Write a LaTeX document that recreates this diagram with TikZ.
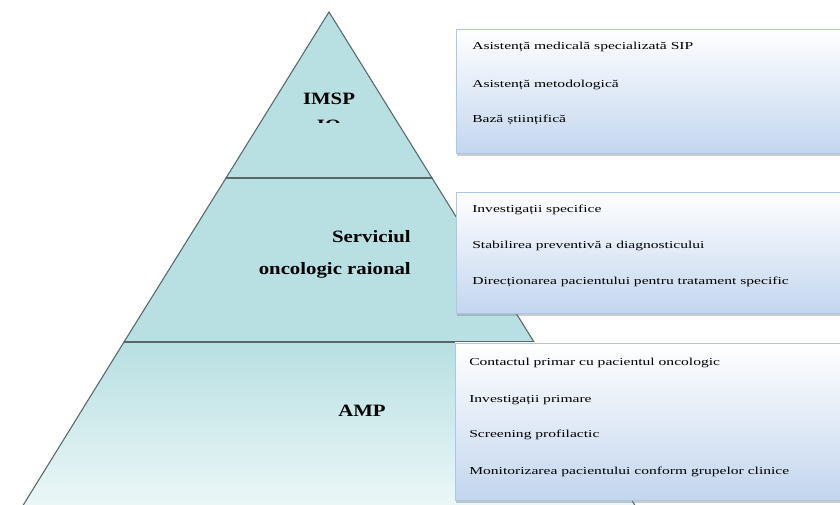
\documentclass[tikz,border=0pt]{standalone}
\usepackage{fontspec}
\setmainfont{Liberation Serif}
\newfontfamily\itemfont[FakeStretch=1.46]{Liberation Serif}
\newfontfamily\tierfont[FakeStretch=1.2]{Liberation Serif}
\usetikzlibrary{shadows}
\definecolor{pyrteal}{RGB}{184,223,226}
\definecolor{pyrpale}{RGB}{240,249,249}
\definecolor{pyredge}{RGB}{88,104,104}
\definecolor{boxbot}{RGB}{195,214,238}
\definecolor{boxline}{RGB}{170,198,232}
\tikzset{
  tier/.style={fill=pyrteal, draw=pyredge, line width=0.8pt},
  sepline/.style={draw=pyredge, line width=1.6pt},
  infobox/.style={top color=white, bottom color=boxbot, draw=boxline, line width=0.6pt,
    drop shadow={shadow xshift=1pt, shadow yshift=-2pt, opacity=0.4, fill=gray}},
  item/.style={anchor=west, inner sep=0pt, font=\itemfont\fontsize{8}{9}\selectfont},
  tierlabel/.style={font=\tierfont\bfseries\fontsize{13}{24}\selectfont, inner sep=0pt}
}
\begin{document}
\begin{tikzpicture}[x=0.75pt,y=-0.75pt]
\clip (0,0) rectangle (840,505);
% pyramid
\draw[tier] (329,12)--(432,178)--(226,178)--cycle;
\draw[tier] (226,178)--(432,178)--(534,342)--(124,342)--cycle;
\draw[tier, top color=pyrteal, bottom color=pyrpale] (124,342)--(534,342)--(644,520)--(14,520)--cycle;
\draw[sepline] (226,178)--(432,178);
\draw[sepline] (124,342)--(534,342);

\node[tierlabel] (imsp) at (329,99) {IMSP};
\begin{scope}
\clip (280,100) rectangle (380,123);
\node[tierlabel] (imspsub) at (329,126) {IO};
\end{scope}
\node[tierlabel, anchor=east, align=right] (raion) at (411,254) {Serviciul\\oncologic raional};
\node[tierlabel] (amp) at (362,411) {AMP};

% boxes
\path[infobox] (456,29) rectangle (850,153);
\path[infobox] (456,192) rectangle (850,313);
\path[infobox] (455,343) rectangle (850,500);

\node[item] (imspa) at (472,47) {Asistență medicală specializată SIP};
\node[item] (imspb) at (472,85) {Asistență metodologică};
\node[item] (imspc) at (472,120) {Bază științifică};

\node[item] (raiona) at (472,210) {Investigații specifice};
\node[item] (raionb) at (472,246) {Stabilirea preventivă a diagnosticului};
\node[item] (raionc) at (472,282) {Direcționarea pacientului pentru tratament specific};

\node[item] (ampa) at (469,363) {Contactul primar cu pacientul oncologic};
\node[item] (ampb) at (469,400) {Investigații primare};
\node[item] (ampc) at (469,435) {Screening profilactic};
\node[item] (ampd) at (469,472) {Monitorizarea pacientului conform grupelor clinice};
\end{tikzpicture}
\end{document}
